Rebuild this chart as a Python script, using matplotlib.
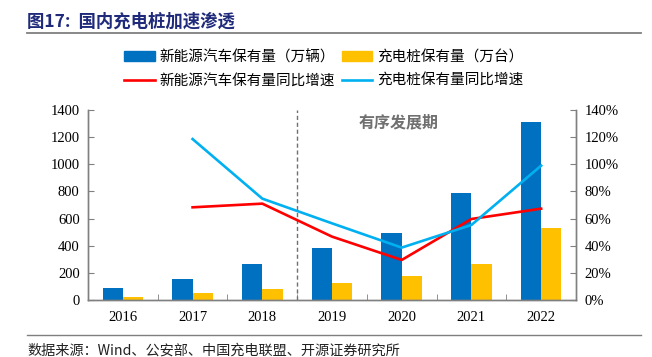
import numpy as np
import matplotlib
matplotlib.use('Agg')
import matplotlib.pyplot as plt
from matplotlib.patches import Patch
from matplotlib.lines import Line2D

plt.rcParams['font.family'] = ['Liberation Serif', 'Noto Sans CJK SC']

years = ['2016', '2017', '2018', '2019', '2020', '2021', '2022']
nev_stock = [92, 154, 265, 383, 491, 786, 1309]       # 万辆
pile_stock = [22, 50, 83, 128, 174, 268, 528]         # 万台
nev_growth = [None, 68.3, 71.0, 46.7, 29.5, 59.7, 67.3]     # %
pile_growth = [None, 118.6, 74.7, 56.5, 38.6, 55.3, 99.0]   # %

cjk = ['Noto Sans CJK SC', 'DejaVu Sans']
c_blue = '#0070C0'
c_yellow = '#FFC000'
c_red = '#FF0000'
c_cyan = '#00B0F0'
grey = '#808080'

fig = plt.figure(figsize=(6.52, 3.57), dpi=100)
ax = fig.add_axes([88/652, 1-300/357, 488/652, 190/357])
ax2 = ax.twinx()

x = np.arange(len(years))
w = 0.29
ax.bar(x - w/2, nev_stock, w, color=c_blue, zorder=2)
ax.bar(x + w/2, pile_stock, w, color=c_yellow, zorder=2)

xs = x[1:]
ax2.plot(xs, [v / 100 for v in nev_growth[1:]], color=c_red, lw=1.9, zorder=3)
ax2.plot(xs, [v / 100 for v in pile_growth[1:]], color=c_cyan, lw=1.9, zorder=3)

ax.set_xlim(-0.5, len(years) - 0.5)
ax.set_ylim(0, 1400)
ax.set_yticks(range(0, 1401, 200))
ax2.set_ylim(0, 1.4)
ax2.set_yticks(np.arange(0, 1.41, 0.2))
ax2.set_yticklabels(['%d%%' % round(v * 100) for v in np.arange(0, 1.41, 0.2)])

ax.set_xticks(x)
ax.set_xticklabels(years)
ax.set_xticks(np.arange(0.5, len(years) - 1, 1), minor=True)
ax.tick_params(axis='x', which='major', length=0, pad=8, labelsize=10.5)
ax.tick_params(axis='x', which='minor', direction='in', length=4, color=grey)
ax.tick_params(axis='y', direction='in', length=4, color=grey, labelsize=10.5, pad=6)
ax2.tick_params(axis='y', direction='in', length=4, color=grey, labelsize=10.5, pad=6)

for a in (ax, ax2):
    a.spines['top'].set_visible(False)
    for s in ('left', 'right', 'bottom'):
        a.spines[s].set_color(grey)
        a.spines[s].set_linewidth(1)

# 分期虚线和标注
ax.axvline(2.5, color='#707070', ls=(0, (3, 2)), lw=1)
ax.text(3.96, 1310, '有序发展期', family=cjk, fontsize=11.5, color='#707070',
        ha='center', va='center', fontweight='bold')

handles = [Patch(color=c_blue), Line2D([], [], color=c_red, lw=1.9),
           Patch(color=c_yellow), Line2D([], [], color=c_cyan, lw=1.9)]
labels = ['新能源汽车保有量（万辆）', '新能源汽车保有量同比增速',
          '充电桩保有量（万台）', '充电桩保有量同比增速']
fig.legend(handles, labels, ncol=2, loc='upper left', bbox_to_anchor=(124/652, 1-50/357),
           frameon=False, prop={'family': cjk, 'size': 10.5}, handlelength=2.1,
           handleheight=0.65, handletextpad=0.3, columnspacing=0.5, labelspacing=0.65,
           borderpad=0, borderaxespad=0)

# 标题与来源
fig.text(27/652, 1-22/357, '图17:  国内充电桩加速渗透', family=cjk, fontsize=12.5,
         fontweight='bold', color='#1F2A7A', va='center', ha='left')
fig.add_artist(Line2D([27/652, 641/652], [1-33/357, 1-33/357], color='#7F7F7F', lw=1.3))
fig.add_artist(Line2D([27/652, 641/652], [1-335/357, 1-335/357], color='#7F7F7F', lw=1))
fig.text(27/652, 1-351/357, '数据来源：Wind、公安部、中国充电联盟、开源证券研究所', family=cjk,
         fontsize=10.2, color='#222222', va='center', ha='left')

fig.savefig('out.png', dpi=100)
